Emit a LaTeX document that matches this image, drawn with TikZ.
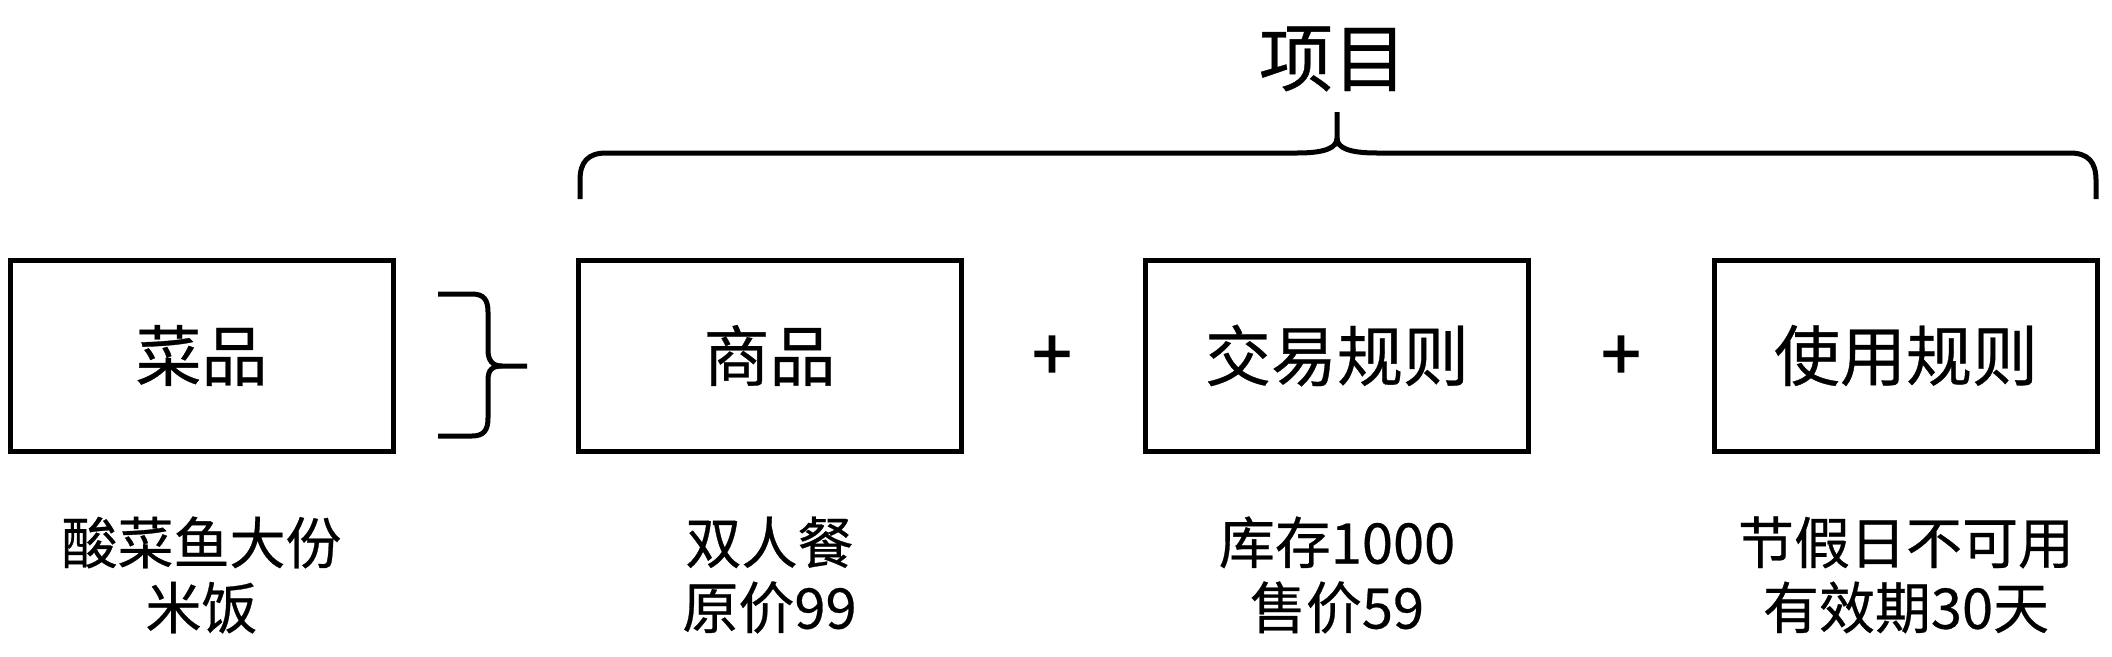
\documentclass[tikz,border=0pt]{standalone}
\usepackage{fontspec}
\setmainfont{Noto Sans CJK SC}[FakeBold=0.5]
\newfontfamily\plusfont{Noto Sans CJK SC}[FakeBold=2.5]
\begin{document}
\begin{tikzpicture}[x=1pt,y=-1pt,
  box/.style={draw=black,line width=5pt,minimum width=383pt,minimum height=191pt,inner sep=0pt,outer sep=0pt,font=\fontsize{66}{78}\selectfont},
  plus/.style={inner sep=0pt,font=\plusfont\fontsize{70}{80}\selectfont},
  desc/.style={align=center,inner sep=0pt,font=\fontsize{56}{65}\selectfont},
  title/.style={inner sep=0pt,font=\fontsize{74}{86}\selectfont},
  brace/.style={draw=black,line width=5pt}]
\useasboundingbox (0,0) rectangle (2112,656);
\fill[white] (0,0) rectangle (2112,656);
% boxes
\node[box] (b1) at (201.5,355.5) {菜品};
\node[box] (b2) at (769.5,355.5) {商品};
\node[box] (b3) at (1337,355.5) {交易规则};
\node[box] (b4) at (1906,355.5) {使用规则};
% plus signs
\node[plus] (p1) at (1052,358) {+};
\node[plus] (p2) at (1621,358) {+};
% descriptions
\node[desc] (d1) at (201.5,575) {酸菜鱼大份\\米饭};
\node[desc] (d2) at (769.5,575) {双人餐\\原价99};
\node[desc] (d3) at (1337,575) {库存1000\\售价59};
\node[desc] (d4) at (1906,575) {节假日不可用\\有效期30天};
% title
\node[title] (t) at (1333,59) {项目};
% small brace between 菜品 and 商品
\path[brace] (438,294) -- (472,294) .. controls (484,294) and (488,300) .. (488,312)
  -- (488,350) .. controls (488,360) and (492,366) .. (502,366) -- (527,366);
\path[brace] (438,436) -- (472,436) .. controls (484,436) and (488,430) .. (488,418)
  -- (488,380) .. controls (488,370) and (492,366) .. (502,366);
% big top brace
\coordinate (tip) at (1337,112);
\path[brace] (580,199) -- (580,180) .. controls (580,162) and (588,153) .. (606,153)
  -- (1297,153) .. controls (1325,153) and (1337,148) .. (1337,138) -- (tip);
\path[brace] (2096,199) -- (2096,180) .. controls (2096,162) and (2088,153) .. (2070,153)
  -- (1377,153) .. controls (1349,153) and (1337,148) .. (1337,138);
\end{tikzpicture}
\end{document}
